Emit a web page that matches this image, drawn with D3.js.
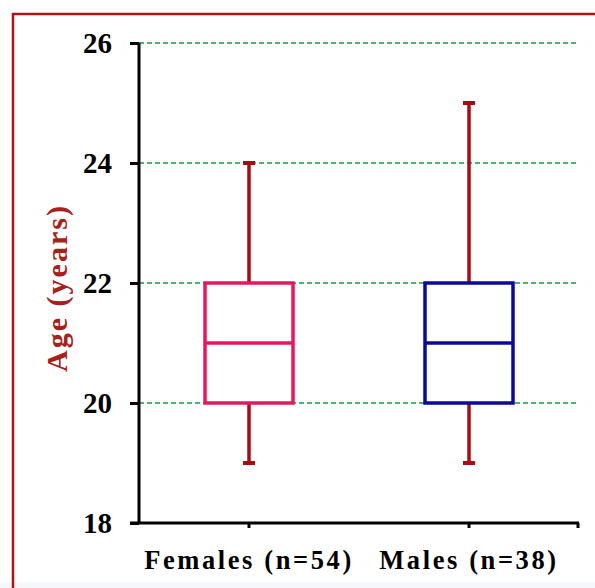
<!DOCTYPE html>
<html>
<head>
<meta charset="utf-8">
<script src="https://cdn.jsdelivr.net/npm/d3@7"></script>
<style>
  html, body { margin: 0; padding: 0; background: #fff; }
  svg { display: block; }
</style>
</head>
<body>
<div id="chart"></div>
<script>
// Box plot data
const groups = ['Females (n=54)', 'Males (n=38)'];
const mins = [19, 19];
const q1s = [20, 20];
const medians = [21, 21];
const q3s = [22, 22];
const maxes = [24, 25];
const boxColors = ['#e8175d', '#0a0a9a'];
const yTicks = [18, 20, 22, 24, 26];

const width = 595, height = 588;
const margin = { left: 139, right: 16, top: 43, bottom: 65 };
const serif = '"Liberation Serif", "Times New Roman", serif';

const svg = d3.select('#chart').append('svg')
  .attr('width', width)
  .attr('height', height);

// faint band at the bottom and the frame
svg.append('rect').attr('x', 0).attr('y', 582).attr('width', width).attr('height', 6).attr('fill', '#f4f7fb');
svg.append('path')
  .attr('d', `M13,${height} L13,14 L${width},14`)
  .attr('fill', 'none')
  .attr('stroke', '#a8161c')
  .attr('stroke-width', 2.5);

const x = d3.scaleBand()
  .domain(groups)
  .range([margin.left, width - margin.right]);

const y = d3.scaleLinear()
  .domain([18, 26])
  .range([height - margin.bottom, margin.top]);

// grid lines
svg.append('g')
  .selectAll('line')
  .data(yTicks.filter(d => d > 18))
  .join('line')
  .attr('x1', margin.left)
  .attr('x2', width - margin.right - 1)
  .attr('y1', d => y(d))
  .attr('y2', d => y(d))
  .attr('stroke', '#169a3e')
  .attr('stroke-width', 1.5)
  .attr('stroke-dasharray', '5,3');

// y axis
const yAxis = svg.append('g')
  .attr('transform', `translate(${margin.left},0)`)
  .call(d3.axisLeft(y).tickValues(yTicks).tickSize(9).tickPadding(18).tickFormat(d3.format('d')));
yAxis.select('.domain').attr('stroke', '#000').attr('stroke-width', 3).attr('d', `M0,${y(26)}V${y(18)}`);
yAxis.selectAll('.tick line').attr('stroke', '#000').attr('stroke-width', 3);
yAxis.selectAll('.tick text')
  .attr('fill', '#000')
  .attr('dy', '0.34em')
  .style('font-family', serif)
  .style('font-weight', 'bold')
  .style('font-size', '29px');

// x axis
const xBase = y(18);
svg.append('line')
  .attr('x1', margin.left - 9).attr('x2', width - margin.right)
  .attr('y1', xBase).attr('y2', xBase)
  .attr('stroke', '#000').attr('stroke-width', 3);
svg.append('g')
  .selectAll('line')
  .data(groups.map(g => x(g) + x.bandwidth() / 2).concat([width - margin.right - 1]))
  .join('line')
  .attr('x1', d => d).attr('x2', d => d)
  .attr('y1', xBase).attr('y2', xBase + 5)
  .attr('stroke', '#000').attr('stroke-width', 3);

svg.append('g')
  .selectAll('text')
  .data(groups)
  .join('text')
  .attr('x', d => x(d) + x.bandwidth() / 2)
  .attr('y', 569)
  .attr('text-anchor', 'middle')
  .style('font-family', serif)
  .style('font-weight', 'bold')
  .style('font-size', '26.5px')
  .style('letter-spacing', '2.6px')
  .text(d => d);

// y title
svg.append('text')
  .attr('transform', `translate(67,${(y(18) + y(26)) / 2 + 5}) rotate(-90)`)
  .attr('text-anchor', 'middle')
  .attr('fill', '#a8201a')
  .style('font-family', serif)
  .style('font-weight', 'bold')
  .style('font-size', '30px')
  .style('letter-spacing', '2px')
  .text('Age (years)');

// boxes
const boxW = 88, capW = 12;
const plot = svg.append('g');
groups.forEach((g, i) => {
  const cx = x(g) + x.bandwidth() / 2;
  const grp = plot.append('g');
  // whiskers
  grp.append('line')
    .attr('x1', cx).attr('x2', cx)
    .attr('y1', y(maxes[i])).attr('y2', y(q3s[i]))
    .attr('stroke', '#a50d12').attr('stroke-width', 3.5);
  grp.append('line')
    .attr('x1', cx).attr('x2', cx)
    .attr('y1', y(q1s[i])).attr('y2', y(mins[i]))
    .attr('stroke', '#a50d12').attr('stroke-width', 3.5);
  [maxes[i], mins[i]].forEach(v => {
    grp.append('rect')
      .attr('x', cx - capW / 2).attr('y', y(v) - 2)
      .attr('width', capW).attr('height', 4)
      .attr('fill', '#a50d12');
  });
  // box
  grp.append('rect')
    .attr('x', cx - boxW / 2).attr('y', y(q3s[i]))
    .attr('width', boxW).attr('height', y(q1s[i]) - y(q3s[i]))
    .attr('fill', '#fff')
    .attr('stroke', boxColors[i]).attr('stroke-width', 3.5);
  grp.append('line')
    .attr('x1', cx - boxW / 2).attr('x2', cx + boxW / 2)
    .attr('y1', y(medians[i])).attr('y2', y(medians[i]))
    .attr('stroke', boxColors[i]).attr('stroke-width', 3.5);
});
</script>
</body>
</html>
